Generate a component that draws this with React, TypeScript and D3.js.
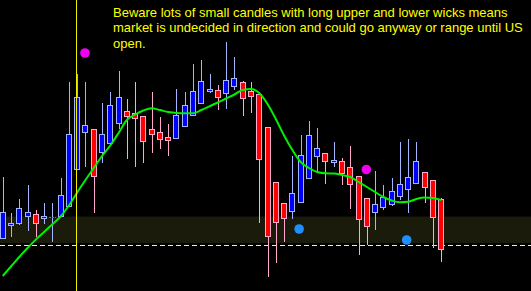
import React from "react";
import * as d3 from "d3";

// Price values (arbitrary price units)
const opens = [61.3, 74.3, 75.7, 83.3, 86, 80.7, 83.3, 82.7, 93.3, 130, 166.7, 170.7, 146.7, 155.7, 175.7, 189.3, 186.7, 183.7, 170.7, 167.7, 163.3, 160.7, 172.7, 183.7, 195.7, 207.7, 209.7, 205.7, 212.7, 217.7, 208.7, 205.7, 172.7, 117.7, 96.7, 88.3, 97.3, 120.7, 142.7, 147, 137.3, 139, 132.7, 124, 101.7, 86.7, 91.7, 95, 102.7, 110, 115.7, 128, 119.7, 100.7];
const highs = [122.7, 87.3, 101.3, 115, 90, 96.7, 96.7, 122, 218.3, 226, 218.3, 170.7, 197.3, 208.3, 229, 200.7, 218, 184, 208.3, 183, 176, 210.7, 208.3, 236, 240, 226.3, 214.7, 258.3, 243.3, 219, 218, 206, 173, 118, 97, 144, 165.3, 179.3, 172, 147, 158.3, 142, 154.3, 124, 102, 129, 115, 121.7, 158, 161, 158, 128, 119.7, 102];
const lows = [61, 62.7, 75, 69.3, 62.7, 76, 58.3, 82.7, 93, 130, 133.3, 87.3, 137.3, 155, 170.7, 140.7, 133.3, 137.3, 147.3, 151.3, 144, 160.7, 172.7, 183.7, 195.7, 207, 190, 190.7, 210, 183.7, 186.7, 76.7, 23.3, 37.3, 58.3, 80.7, 97, 120.7, 128.3, 116, 133.3, 115, 90.7, 45, 55, 70, 90, 94, 100, 87.3, 115.7, 97.3, 51.7, 37.7];
const closes = [88, 77, 92, 88, 76.3, 84, 83.3, 104.7, 165.7, 202.7, 174.7, 122.7, 165.7, 194.7, 202.7, 183.3, 181.3, 157.7, 164.7, 160, 158.7, 184.7, 194.7, 208.7, 218.7, 210.7, 202.3, 219.7, 221.7, 200.7, 202.7, 140, 62.7, 76.7, 80.7, 106.7, 145, 165, 151.7, 138, 139.7, 126, 114.7, 79.7, 72.7, 95.7, 102.7, 109, 115.7, 123, 139, 111.7, 81.7, 49.7];
const maValues = [24, 33.5, 43, 52, 60.4, 68, 75.7, 83.5, 94.5, 107.5, 120, 132, 144, 154.5, 167, 180, 185.5, 189.5, 191.7, 190, 188, 187, 186.7, 186.7, 190, 193.7, 197.5, 201.5, 205.5, 210, 211, 207, 196, 181, 164.5, 150, 138, 132, 128, 126.7, 126.5, 125, 123, 118, 113, 108, 103, 99.5, 97.7, 98.2, 101, 102.5, 102, 100];

// Signal dots: candle index and price
const magentaIdx = [10, 44];
const magentaPrice = [247, 130.5];
const blueIdx = [36, 49];
const bluePrice = [71, 60];

// Zone and level
const zoneTop = 83.5;
const zoneBottom = 57;
const levelPrice = 54.7;
const markerIdx = 9;

const noteLines = [
  "Beware lots of small candles with long upper and lower wicks means",
  "market is undecided in direction and could go anyway or range until US",
  "open.",
];

const W = 531;
const H = 291;

export default function App() {
  const x = d3.scaleLinear().domain([0, opens.length - 1]).range([2.7, 441.3]);
  const y = d3.scaleLinear().domain([0, 300]).range([300, 0]);

  const maLine = d3
    .line<number>()
    .x((_, i) => x(i))
    .y((d) => y(d))
    .curve(d3.curveMonotoneX);

  const upFill = "#0000ff";
  const upStroke = "#a3b5ff";
  const dnFill = "#ff0000";
  const dnStroke = "#ffa9cf";

  const vx = Math.round(x(markerIdx)) - 1 + 0.5;

  return (
    <div style={{ position: "fixed", left: 0, top: 0, width: W, height: H, background: "#000" }}>
      <svg width={W} height={H} style={{ display: "block" }}>
        <rect x={0} y={0} width={W} height={H} fill="#000" />
        <rect
          x={0}
          y={y(zoneTop)}
          width={W}
          height={y(zoneBottom) - y(zoneTop)}
          fill="#1b1b0b"
        />
        <line
          x1={0}
          x2={W}
          y1={Math.round(y(levelPrice)) + 0.5}
          y2={Math.round(y(levelPrice)) + 0.5}
          stroke="#e8e8e8"
          strokeWidth={1}
          strokeDasharray="5,3"
        />
        {opens.map((o, i) => {
          const c = closes[i];
          const up = c >= o;
          const cx = Math.round(x(i));
          const top = Math.round(y(Math.max(o, c)));
          const bot = Math.round(y(Math.min(o, c)));
          const stroke = up ? upStroke : dnStroke;
          const fill = up ? upFill : dnFill;
          const doji = Math.abs(o - c) < 0.5;
          return (
            <g key={i}>
              <line
                x1={cx + 0.5}
                x2={cx + 0.5}
                y1={Math.round(y(highs[i]))}
                y2={Math.round(y(lows[i]))}
                stroke={stroke}
                strokeWidth={1}
              />
              {doji ? (
                <line
                  x1={cx - 3}
                  x2={cx + 4}
                  y1={top + 0.5}
                  y2={top + 0.5}
                  stroke="#4a6cff"
                  strokeWidth={1}
                  strokeDasharray="2,1"
                />
              ) : (
                <rect
                  x={cx - 2.5}
                  y={top + 0.5}
                  width={5}
                  height={Math.max(bot - top - 1, 1)}
                  fill={fill}
                  stroke={stroke}
                  strokeWidth={1}
                />
              )}
            </g>
          );
        })}
        <path d={maLine(maValues) || ""} fill="none" stroke="#00f000" strokeWidth={2} />
        <line x1={vx} x2={vx} y1={0} y2={H} stroke="#f0f000" strokeWidth={1} />
        {magentaIdx.map((idx, k) => (
          <circle key={"m" + k} cx={x(idx) - 0.5} cy={y(magentaPrice[k])} r={4.8} fill="#f000f0" />
        ))}
        {blueIdx.map((idx, k) => (
          <circle key={"b" + k} cx={x(idx) - 1.5} cy={y(bluePrice[k])} r={4.8} fill="#1e8fff" />
        ))}
        {noteLines.map((t, k) => (
          <text
            key={k}
            x={113}
            y={16.5 + k * 15.7}
            fill="#ffff00"
            fontFamily="'Liberation Sans', Arial, sans-serif"
            fontSize={13}
          >
            {t}
          </text>
        ))}
      </svg>
    </div>
  );
}
